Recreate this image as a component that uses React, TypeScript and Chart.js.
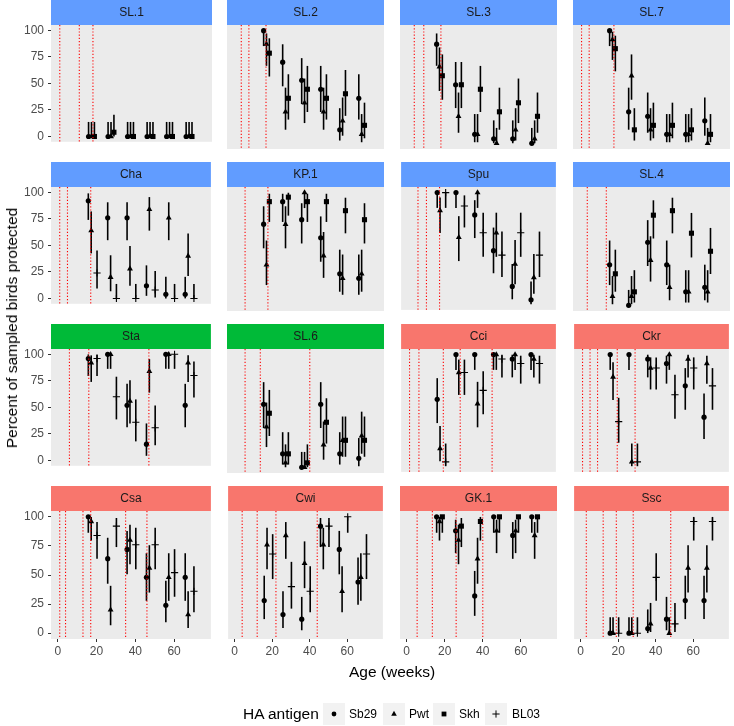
import React, { useEffect, useRef } from "react";
import { Chart, registerables } from "chart.js";
Chart.register(...registerables);

type Row = [number, number, number, number, number]; // [antigen, age (weeks), % protected, CI low, CI high]

const ANTIGENS = ["Sb29", "Pwt", "Skh", "BL03"];
const X_TICKS = [0, 20, 40, 60];
const Y_TICKS = [0, 25, 50, 75, 100];
const PANEL_NAMES = ["SL.1", "SL.2", "SL.3", "SL.7", "Cha", "KP.1", "Spu", "SL.4", "Sta", "SL.6", "Cci", "Ckr", "Csa", "Cwi", "GK.1", "Ssc"];
const PANEL_GROUP = [0, 0, 0, 0, 0, 0, 0, 0, 1, 1, 2, 2, 2, 2, 2, 2];
const VACCINATIONS = [
  [1, 11, 18], [4, 8, 17], [4, 9, 18], [1, 5, 18],
  [1, 5, 17], [6, 18], [5.5, 10, 17], [4, 14],
  [6, 16, 47], [6, 14, 40], [1, 6, 19, 28, 45], [1, 5, 9, 19.5, 29],
  [1, 4, 13, 17, 35, 46], [4, 12, 22, 44], [5.5, 13.5, 26, 40], [3, 12, 19, 28, 48],
];

const SL1: Row[] = [
  [0,18,0,0,13.7],[1,18,0,0,13.7],[2,18,0,0,13.7],
  [0,28,0,0,13.7],[1,28,0,0,13.7],[2,28,4,0.1,20.4],
  [0,38,0,0,13.7],[1,38,0,0,13.7],[2,38,0,0,13.7],
  [0,48,0,0,13.7],[1,48,0,0,13.7],[2,48,0,0,13.7],
  [0,58,0,0,13.7],[1,58,0,0,13.7],[2,58,0,0,13.7],
  [0,68,0,0,13.7],[1,68,0,0,13.7],[2,68,0,0,13.7],
];
const SL2: Row[] = [
  [0,18,100,86.3,100],[1,18,88,68.8,97.5],[2,18,80,59.3,93.2],
  [0,28,72,50.6,87.9],[1,28,28,12.1,49.4],[2,28,40,21.1,61.3],
  [0,38,56,34.9,75.6],[1,38,36,18.0,57.5],[2,38,48,27.8,68.7],
  [0,48,48,27.8,68.7],[1,48,28,12.1,49.4],[2,48,40,21.1,61.3],
  [0,58,12,2.5,31.2],[1,58,20,6.8,40.7],[2,58,44,24.4,65.1],
  [0,68,40,21.1,61.3],[1,68,8,1.0,26.0],[2,68,16,4.5,36.1],
];
const SL3: Row[] = [
  [0,18,88,68.8,97.5],[1,18,68,46.5,85.1],[2,18,60,38.7,78.9],
  [0,28,52,31.3,72.2],[1,28,24,9.4,45.1],[2,28,52,31.3,72.2],
  [0,38,8,1.0,26.0],[1,38,8,1.0,26.0],[2,38,48,27.8,68.7],
  [0,48,4,0.1,20.4],[1,48,0,0,13.7],[2,48,28,12.1,49.4],
  [0,58,4,0.1,20.4],[1,58,12,2.5,31.2],[2,58,36,18.0,57.5],
  [0,68,0,0,13.7],[1,68,4,0.1,20.4],[2,68,24,9.4,45.1],
];
const SL7: Row[] = [
  [0,18,100,86.3,100],[1,18,92,74.0,99.0],[2,18,84,63.9,95.5],
  [0,28,28,12.1,49.4],[1,28,60,38.7,78.9],[2,28,12,2.5,31.2],
  [0,38,24,9.4,45.1],[1,38,12,2.5,31.2],[2,38,16,4.5,36.1],
  [0,48,8,1.0,26.0],[1,48,8,1.0,26.0],[2,48,16,4.5,36.1],
  [0,58,8,1.0,26.0],[1,58,8,1.0,26.0],[2,58,12,2.5,31.2],
  [0,68,20,6.8,40.7],[1,68,0,0,13.7],[2,68,8,1.0,26.0],
];
const CHA: Row[] = [
  [0,18,92,74.0,99.0],[1,18,64,42.5,82.0],[3,18,24,9.4,45.1],
  [0,28,76,54.9,90.6],[1,28,20,6.8,40.7],[3,28,0,0,13.7],
  [0,38,76,54.9,90.6],[1,38,28,12.1,49.4],[3,38,0,0,13.7],
  [0,48,12,2.5,31.2],[1,48,84,63.9,95.5],[3,48,8,1.0,26.0],
  [0,58,4,0.1,20.4],[1,58,76,54.9,90.6],[3,58,0,0,13.7],
  [0,68,4,0.1,20.4],[1,68,40,21.1,61.3],[3,68,0,0,13.7],
];
const KP1: Row[] = [
  [0,18,72,50.6,87.9],[1,18,36,18.0,57.5],[2,18,92,74.0,99.0],
  [0,28,92,74.0,99.0],[1,28,72,50.6,87.9],[2,28,96,79.6,99.9],
  [0,38,76,54.9,90.6],[1,38,100,86.3,100],[2,38,92,74.0,99.0],
  [0,48,60,38.7,78.9],[1,48,44,24.4,65.1],[2,48,92,74.0,99.0],
  [0,58,28,12.1,49.4],[1,58,24,9.4,45.1],[2,58,84,63.9,95.5],
  [0,68,24,9.4,45.1],[1,68,28,12.1,49.4],[2,68,76,54.9,90.6],
];
const SPU: Row[] = [
  [0,18,100,86.3,100],[1,18,84,63.9,95.5],[3,18,100,86.3,100],
  [0,28,100,86.3,100],[1,28,60,38.7,78.9],[3,28,88,68.8,97.5],
  [0,38,80,59.3,93.2],[1,38,100,86.3,100],[3,38,64,42.5,82.0],
  [0,48,48,27.8,68.7],[1,48,64,42.5,82.0],[3,48,44,24.4,65.1],
  [0,58,16,4.5,36.1],[1,58,36,18.0,57.5],[3,58,64,42.5,82.0],
  [0,68,4,0.1,20.4],[1,68,24,9.4,45.1],[3,68,44,24.4,65.1],
];
const SL4: Row[] = [
  [0,18,36,18.0,57.5],[1,18,8,1.0,26.0],[2,18,28,12.1,49.4],
  [0,28,0,0,13.7],[1,28,8,1.0,26.0],[2,28,12,2.5,31.2],
  [0,38,56,34.9,75.6],[1,38,40,21.1,61.3],[2,38,80,59.3,93.2],
  [0,48,36,18.0,57.5],[1,48,16,4.5,36.1],[2,48,84,63.9,95.5],
  [0,58,12,2.5,31.2],[1,58,12,2.5,31.2],[2,58,64,42.5,82.0],
  [0,68,16,4.5,36.1],[1,68,12,2.5,31.2],[2,68,48,27.8,68.7],
];
const STA: Row[] = [
  [0,18,96,79.6,99.9],[1,18,92,74.0,99.0],[3,18,96,79.6,99.9],
  [0,28,100,86.3,100],[1,28,100,86.3,100],[3,28,60,38.7,78.9],
  [0,38,52,31.3,72.2],[1,38,56,34.9,75.6],[3,38,36,18.0,57.5],
  [0,48,15.4,4.4,34.9],[1,48,84,63.9,95.5],[3,48,30.8,14.3,51.8],
  [0,58,100,86.3,100],[1,58,100,86.3,100],[3,58,100,86.3,100],
  [0,68,52,31.3,72.2],[1,68,92,74.0,99.0],[3,68,80,59.3,93.2],
];
const SL6: Row[] = [
  [0,18,56,34.9,75.6],[1,18,36,18.0,57.5],[2,18,48,27.8,68.7],
  [0,28,12,2.5,31.2],[1,28,4,0.1,20.4],[2,28,12,2.5,31.2],
  [0,38,0,0,13.7],[1,38,0,0,13.7],[2,38,4,0.1,20.4],
  [0,48,56,34.9,75.6],[1,48,20,6.8,40.7],[2,48,40,21.1,61.3],
  [0,58,12,2.5,31.2],[1,58,24,9.4,45.1],[2,58,24,9.4,45.1],
  [0,68,8,1.0,26.0],[1,68,28,12.1,49.4],[2,68,24,9.4,45.1],
];
const CCI: Row[] = [
  [0,18,60,38.7,78.9],[1,18,16,4.5,36.1],[3,18,4,0.1,20.4],
  [0,28,100,86.3,100],[1,28,84,63.9,95.5],[3,28,84,63.9,95.5],
  [0,38,100,86.3,100],[1,38,56,34.9,75.6],[3,38,68,46.5,85.1],
  [0,48,100,86.3,100],[1,48,100,86.3,100],[3,48,96,79.6,99.9],
  [0,58,96,79.6,99.9],[1,58,100,86.3,100],[3,58,92,74.0,99.0],
  [0,68,100,86.3,100],[1,68,96,79.6,99.9],[3,68,92,74.0,99.0],
];
const CKR: Row[] = [
  [0,18,100,86.3,100],[1,18,80,59.3,93.2],[3,18,40,21.1,61.3],
  [0,28,100,86.3,100],[1,28,4,0.1,20.4],[3,28,4,0.1,20.4],
  [0,38,96,79.6,99.9],[1,38,88,68.8,97.5],[3,38,88,68.8,97.5],
  [0,48,92,74.0,99.0],[1,48,100,86.3,100],[3,48,64,42.5,82.0],
  [0,58,72,50.6,87.9],[1,58,96,79.6,99.9],[3,58,88,68.8,97.5],
  [0,68,44,24.4,65.1],[1,68,92,74.0,99.0],[3,68,72,50.6,87.9],
];
const CSA: Row[] = [
  [0,18,100,86.3,100],[1,18,96,79.6,99.9],[3,18,84,63.9,95.5],
  [0,28,64,42.5,82.0],[1,28,20,6.8,40.7],[3,28,92,74.0,99.0],
  [0,38,72,50.6,87.9],[1,38,80,59.3,93.2],[3,38,76,54.9,90.6],
  [0,48,48,27.8,68.7],[1,48,56,34.9,75.6],[3,48,76,54.9,90.6],
  [0,58,24,9.4,45.1],[1,58,48,27.8,68.7],[3,58,52,31.3,72.2],
  [0,68,48,27.8,68.7],[1,68,16,4.5,36.1],[3,68,36,18.0,57.5],
];
const CWI: Row[] = [
  [0,18,28,12.1,49.4],[1,18,76,54.9,90.6],[3,18,68,46.5,85.1],
  [0,28,16,4.5,36.1],[1,28,84,63.9,95.5],[3,28,40,21.1,61.3],
  [0,38,12,2.5,31.2],[1,38,60,38.7,78.9],[3,38,36,18.0,57.5],
  [0,48,92,74.0,99.0],[1,48,76,54.9,90.6],[3,48,92,74.0,99.0],
  [0,58,72,50.6,87.9],[1,58,36,18.0,57.5],[3,58,100,86.3,100],
  [0,68,44,24.4,65.1],[1,68,48,27.8,68.7],[3,68,68,46.5,85.1],
];
const GK1: Row[] = [
  [0,18,100,86.3,100],[1,18,96,79.6,99.9],[2,18,100,86.3,100],
  [0,28,88,68.8,97.5],[1,28,80,59.3,93.2],[2,28,92,74.0,99.0],
  [0,38,32,14.9,53.5],[1,38,64,42.5,82.0],[2,38,96,79.6,99.9],
  [0,48,100,86.3,100],[1,48,88,68.8,97.5],[2,48,100,86.3,100],
  [0,58,84,63.9,95.5],[1,58,88,68.8,97.5],[2,58,100,86.3,100],
  [0,68,100,86.3,100],[1,68,84,63.9,95.5],[2,68,100,86.3,100],
];
const SSC: Row[] = [
  [0,18,0,0,13.7],[1,18,0,0,13.7],[3,18,0,0,13.7],
  [0,28,0,0,13.7],[1,28,0,0,13.7],[3,28,0,0,13.7],
  [0,38,4,0.1,20.4],[1,38,8,1.0,26.0],[3,38,48,27.8,68.7],
  [0,48,12,2.5,31.2],[1,48,0,0,13.7],[3,48,8,1.0,26.0],
  [0,58,28,12.1,49.4],[1,58,56,34.9,75.6],[3,58,96,79.6,99.9],
  [0,68,28,12.1,49.4],[1,68,56,34.9,75.6],[3,68,96,79.6,99.9],
];
const PANEL_DATA = [SL1, SL2, SL3, SL7, CHA, KP1, SPU, SL4, STA, SL6, CCI, CKR, CSA, CWI, GK1, SSC];

// ---- styles / layout ----
const FONT = "'Liberation Sans', Arial, Helvetica, sans-serif";
const STRIP_COLORS = ["#619CFF", "#00BA38", "#F8766D"];
const POINT_STYLES = ["circle", "triangle", "rect", "cross"];
const POINT_RADII = [2.6, 3.4, 3.6, 3.6];
const DODGE = [-2.25, -0.75, 0.75, 2.25];
const COL_LEFT = [51, 223, 396, 569];
const ROW_TOP = [0, 162, 324, 486];
const PANEL_W = 165;
const PANEL_H = 128;
const STRIP_H = 25;
const Y_AXIS_W = 51;
const X_AXIS_H = 26;

function Panel({ index }: { index: number }) {
  const ref = useRef<HTMLCanvasElement | null>(null);
  const row = Math.floor(index / 4);
  const col = index % 4;
  const left = col === 0 ? 0 : COL_LEFT[col];
  const width = COL_LEFT[col] + PANEL_W - left;
  const height = STRIP_H + PANEL_H + (row === 3 ? X_AXIS_H : 0);

  useEffect(() => {
    if (!ref.current) return;
    const rows = PANEL_DATA[index];
    const name = PANEL_NAMES[index];
    const stripColor = STRIP_COLORS[PANEL_GROUP[index]];
    const vacc = VACCINATIONS[index];

    const deco = {
      id: "panelDeco",
      beforeDatasetsDraw(chart: any) {
        const { ctx, chartArea: a, scales } = chart;
        ctx.save();
        ctx.fillStyle = "#EBEBEB";
        ctx.fillRect(a.left, a.top, a.right - a.left, a.bottom - a.top);
        ctx.fillStyle = stripColor;
        ctx.fillRect(a.left, a.top - STRIP_H, a.right - a.left, STRIP_H);
        ctx.fillStyle = "#1A1A1A";
        ctx.font = `12px ${FONT}`;
        ctx.textAlign = "center";
        ctx.textBaseline = "middle";
        ctx.fillText(name, (a.left + a.right) / 2, a.top - STRIP_H / 2 + 0.5);
        // error bars
        ctx.strokeStyle = "#000";
        ctx.lineWidth = 1.6;
        chart.data.datasets.forEach((ds: any) => {
          ds.data.forEach((p: any) => {
            const x = scales.x.getPixelForValue(p.x);
            ctx.beginPath();
            ctx.moveTo(x, scales.y.getPixelForValue(p.lo));
            ctx.lineTo(x, scales.y.getPixelForValue(p.hi));
            ctx.stroke();
          });
        });
        ctx.restore();
      },
      afterDatasetsDraw(chart: any) {
        const { ctx, chartArea: a, scales } = chart;
        ctx.save();
        ctx.strokeStyle = "#FF0000";
        ctx.lineWidth = 1.1;
        ctx.setLineDash([1.2, 2]);
        vacc.forEach((w) => {
          const x = scales.x.getPixelForValue(w);
          ctx.beginPath();
          ctx.moveTo(x, a.top);
          ctx.lineTo(x, a.bottom);
          ctx.stroke();
        });
        ctx.restore();
      },
    };

    const tickGrid = {
      display: true,
      drawOnChartArea: false,
      drawTicks: true,
      tickLength: 3,
      tickColor: "#333333",
      color: "#333333",
      lineWidth: 1,
    };

    const chart = new Chart(ref.current, {
      type: "scatter",
      data: {
        datasets: ANTIGENS.map((label, a) => ({
          label,
          data: rows
            .filter((r) => r[0] === a)
            .map((r) => ({ x: r[1] + DODGE[a], y: r[2], lo: r[3], hi: r[4] })),
          pointStyle: POINT_STYLES[a],
          pointRadius: POINT_RADII[a],
          backgroundColor: "#000",
          borderColor: "#000",
          borderWidth: a === 3 ? 1.1 : 0,
          clip: false,
        })) as any,
      },
      options: {
        responsive: false,
        animation: false,
        events: [],
        layout: { padding: { top: STRIP_H, left: 0, right: 0, bottom: 0 } },
        plugins: {
          legend: { display: false },
          tooltip: { enabled: false },
          title: { display: false },
        },
        scales: {
          x: {
            type: "linear",
            min: -3.5,
            max: 79,
            display: row === 3,
            afterBuildTicks: (s: any) => {
              s.ticks = X_TICKS.map((v) => ({ value: v }));
            },
            afterFit: row === 3 ? (s: any) => { s.height = X_AXIS_H; } : undefined,
            grid: tickGrid,
            border: { display: false },
            ticks: {
              font: { family: FONT, size: 12 },
              color: "#4D4D4D",
              padding: 2,
              maxRotation: 0,
              autoSkip: false,
            },
          },
          y: {
            type: "linear",
            min: -5,
            max: 105,
            display: col === 0,
            afterBuildTicks: (s: any) => {
              s.ticks = Y_TICKS.map((v) => ({ value: v }));
            },
            afterFit: col === 0 ? (s: any) => { s.width = Y_AXIS_W; } : undefined,
            grid: tickGrid,
            border: { display: false },
            ticks: {
              font: { family: FONT, size: 12 },
              color: "#4D4D4D",
              padding: 4,
              autoSkip: false,
            },
          },
        },
      } as any,
      plugins: [deco],
    });
    return () => chart.destroy();
  }, [index]);

  return (
    <canvas
      ref={ref}
      width={width}
      height={height}
      style={{ position: "absolute", left, top: ROW_TOP[row], width, height }}
    />
  );
}

function LegendGlyph({ kind }: { kind: number }) {
  const c = 11;
  return (
    <svg width={22} height={22} style={{ position: "absolute", left: 0, top: 0 }}>
      <rect x={0} y={0} width={22} height={22} fill="#F2F2F2" />
      {kind === 0 && <circle cx={c} cy={c} r={2.4} fill="#000" />}
      {kind === 1 && <polygon points={`${c},${c - 3.2} ${c - 2.8},${c + 1.7} ${c + 2.8},${c + 1.7}`} fill="#000" />}
      {kind === 2 && <rect x={c - 2.4} y={c - 2.4} width={4.8} height={4.8} fill="#000" />}
      {kind === 3 && (
        <g stroke="#000" strokeWidth={1}>
          <line x1={c - 3.6} y1={c} x2={c + 3.6} y2={c} />
          <line x1={c} y1={c - 3.6} x2={c} y2={c + 3.6} />
        </g>
      )}
    </svg>
  );
}

const LEGEND_KEY_X = [323, 383, 433, 485];
const LEGEND_LABEL_X = [349, 409, 459, 512];

export default function App() {
  return (
    <div
      style={{
        position: "absolute",
        left: 0,
        top: 0,
        width: 734,
        height: 726,
        background: "#FFFFFF",
        overflow: "hidden",
        fontFamily: FONT,
      }}
    >
      {PANEL_NAMES.map((_, i) => (
        <Panel key={i} index={i} />
      ))}
      <div
        style={{
          position: "absolute",
          left: 12,
          top: 328,
          transform: "translate(-50%, -50%) rotate(-90deg)",
          whiteSpace: "nowrap",
          fontSize: 15.5,
          color: "#000",
        }}
      >
        Percent of sampled birds protected
      </div>
      <div
        style={{
          position: "absolute",
          left: 392,
          top: 672,
          transform: "translate(-50%, -50%)",
          whiteSpace: "nowrap",
          fontSize: 15.5,
          color: "#000",
        }}
      >
        Age (weeks)
      </div>
      <div
        style={{
          position: "absolute",
          left: 243,
          top: 703,
          height: 22,
          lineHeight: "22px",
          fontSize: 15.5,
          whiteSpace: "nowrap",
          color: "#000",
        }}
      >
        HA antigen
      </div>
      {ANTIGENS.map((name, i) => (
        <React.Fragment key={name}>
          <div style={{ position: "absolute", left: LEGEND_KEY_X[i], top: 703, width: 22, height: 22 }}>
            <LegendGlyph kind={i} />
          </div>
          <div
            style={{
              position: "absolute",
              left: LEGEND_LABEL_X[i],
              top: 703,
              height: 22,
              lineHeight: "22px",
              fontSize: 12,
              whiteSpace: "nowrap",
              color: "#000",
            }}
          >
            {name}
          </div>
        </React.Fragment>
      ))}
    </div>
  );
}
